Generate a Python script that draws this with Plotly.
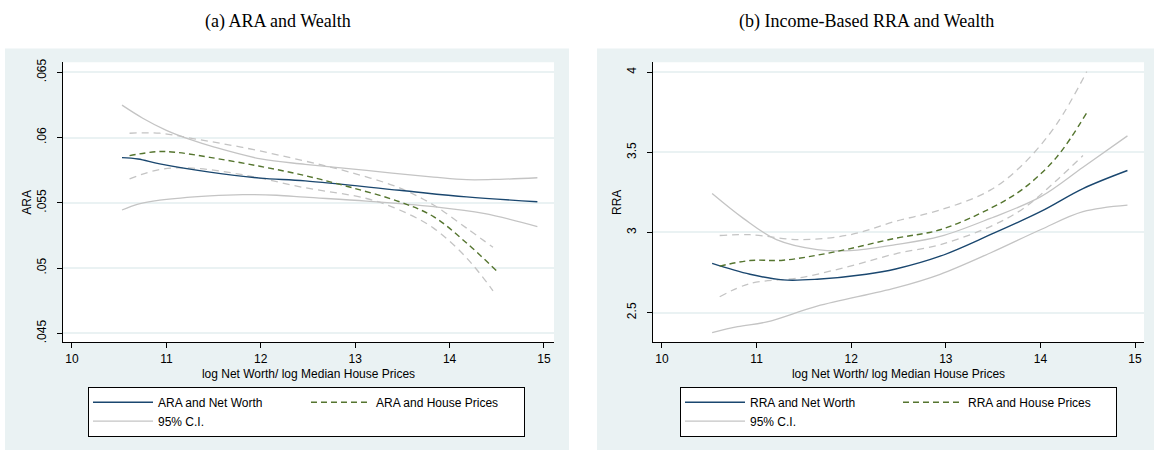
import plotly.graph_objects as go

# ---------------- data: panel (a) ARA ----------------
a_nw_x = [10.53, 10.70, 10.93, 11.46, 11.99, 12.47, 13.47, 14.18, 14.93]
a_nw_y = [0.05846, 0.05836, 0.05798, 0.05735, 0.05689, 0.05668, 0.05596, 0.05545, 0.05508]
a_nw_hi_x = [10.53, 10.75, 11.00, 11.25, 11.50, 12.00, 12.47, 13.12, 13.83, 14.18, 14.53, 14.93]
a_nw_hi_y = [0.06248, 0.06148, 0.06055, 0.05985, 0.05928, 0.05836, 0.05795, 0.05748, 0.05697, 0.05677, 0.05680, 0.05692]
a_nw_lo_x = [10.53, 10.70, 10.93, 11.46, 11.81, 12.17, 12.47, 13.12, 13.83, 14.36, 14.93]
a_nw_lo_y = [0.05445, 0.05490, 0.05520, 0.05553, 0.05563, 0.05558, 0.05543, 0.05513, 0.05470, 0.05419, 0.05318]
a_hp_x = [10.61, 10.90, 11.11, 11.46, 11.99, 12.47, 12.94, 13.47, 13.83, 14.18, 14.50]
a_hp_y = [0.05861, 0.05892, 0.05886, 0.05848, 0.05780, 0.05708, 0.05621, 0.05508, 0.05394, 0.05192, 0.04977]
a_hp_hi_x = [10.61, 10.93, 11.28, 11.81, 12.45, 12.94, 13.47, 13.83, 14.18, 14.46]
a_hp_hi_y = [0.06033, 0.06033, 0.05992, 0.05924, 0.05823, 0.05735, 0.05614, 0.05483, 0.05306, 0.05159]
a_hp_lo_x = [10.61, 10.93, 11.28, 11.81, 12.45, 13.12, 13.47, 13.83, 14.18, 14.46]
a_hp_lo_y = [0.05684, 0.05755, 0.05765, 0.05715, 0.05618, 0.05533, 0.05445, 0.05306, 0.05078, 0.04826]

# ---------------- data: panel (b) RRA ----------------
b_nw_x = [10.53, 10.93, 11.28, 11.64, 12.16, 12.47, 12.94, 13.47, 14.00, 14.45, 14.92]
b_nw_y = [2.807, 2.739, 2.704, 2.708, 2.739, 2.772, 2.852, 2.986, 3.130, 3.274, 3.387]
b_nw_hi_x = [10.53, 10.86, 11.21, 11.64, 11.99, 12.47, 12.94, 13.47, 14.00, 14.45, 14.92]
b_nw_hi_y = [3.243, 3.088, 2.955, 2.893, 2.887, 2.924, 2.975, 3.088, 3.222, 3.407, 3.603]
b_nw_lo_x = [10.53, 10.80, 11.11, 11.64, 12.47, 12.94, 13.47, 14.00, 14.45, 14.92]
b_nw_lo_y = [2.375, 2.412, 2.442, 2.540, 2.654, 2.739, 2.872, 3.017, 3.130, 3.171]
b_hp_x = [10.61, 10.93, 11.28, 11.81, 12.47, 12.94, 13.47, 13.82, 14.17, 14.49]
b_hp_y = [2.790, 2.825, 2.827, 2.877, 2.964, 3.017, 3.150, 3.274, 3.469, 3.747]
b_hp_hi_x = [10.61, 10.93, 11.46, 11.99, 12.47, 12.94, 13.47, 13.82, 14.17, 14.49]
b_hp_hi_y = [2.981, 2.986, 2.955, 2.986, 3.070, 3.140, 3.264, 3.428, 3.675, 4.004]
b_hp_lo_x = [10.61, 10.93, 11.46, 11.99, 12.47, 12.94, 13.47, 13.82, 14.17, 14.45]
b_hp_lo_y = [2.599, 2.681, 2.718, 2.790, 2.867, 2.924, 3.037, 3.150, 3.325, 3.480]

x_ticks = [10, 11, 12, 13, 14, 15]
a_yticks = [0.045, 0.05, 0.055, 0.06, 0.065]
a_ytext = [".045", ".05", ".055", ".06", ".065"]
b_yticks = [2.5, 3, 3.5, 4]
b_ytext = ["2.5", "3", "3.5", "4"]

NAVY = "#1a476f"
GREEN = "#55752f"
GRAY = "#c4c4c4"
BG = "#eaf2f3"
FONT = "Liberation Sans"

W, H = 1154, 451
fig = go.Figure()


def add_panel(xa, ya, leg, nw, nwhi, nwlo, hp, hphi, hplo, nw_name, hp_name):
    common = dict(xaxis=xa, yaxis=ya, mode="lines", legend=leg, hoverinfo="skip")
    fig.add_trace(go.Scatter(x=nwhi[0], y=nwhi[1], name="95% C.I.", legendgroup="g1",
                             line=dict(color=GRAY, width=1.3, shape="spline"), showlegend=False, **common))
    fig.add_trace(go.Scatter(x=nwlo[0], y=nwlo[1], name="95% C.I.", legendgroup="g1",
                             line=dict(color=GRAY, width=1.3, shape="spline"), showlegend=False, **common))
    fig.add_trace(go.Scatter(x=hphi[0], y=hphi[1], name="95% C.I. hp", legendgroup="g2",
                             line=dict(color=GRAY, width=1.3, dash="7px,5px", shape="spline"), showlegend=False, **common))
    fig.add_trace(go.Scatter(x=hplo[0], y=hplo[1], name="95% C.I. hp", legendgroup="g2",
                             line=dict(color=GRAY, width=1.3, dash="7px,5px", shape="spline"), showlegend=False, **common))
    fig.add_trace(go.Scatter(x=nw[0], y=nw[1], name=nw_name, legendgroup="g1", legendrank=1,
                             line=dict(color=NAVY, width=1.4, shape="spline"), **common))
    fig.add_trace(go.Scatter(x=hp[0], y=hp[1], name=hp_name, legendgroup="g2", legendrank=3,
                             line=dict(color=GREEN, width=1.4, dash="6px,4px", shape="spline"), **common))
    # legend-only CI entry
    fig.add_trace(go.Scatter(x=[None], y=[None], name="95% C.I.", legendgroup="g1", legendrank=2,
                             line=dict(color=GRAY, width=1.3), **common))


add_panel("x", "y", "legend", (a_nw_x, a_nw_y), (a_nw_hi_x, a_nw_hi_y), (a_nw_lo_x, a_nw_lo_y),
          (a_hp_x, a_hp_y), (a_hp_hi_x, a_hp_hi_y), (a_hp_lo_x, a_hp_lo_y),
          "ARA and Net Worth", "ARA and House Prices")
add_panel("x2", "y2", "legend2", (b_nw_x, b_nw_y), (b_nw_hi_x, b_nw_hi_y), (b_nw_lo_x, b_nw_lo_y),
          (b_hp_x, b_hp_y), (b_hp_hi_x, b_hp_hi_y), (b_hp_lo_x, b_hp_lo_y),
          "RRA and Net Worth", "RRA and House Prices")

tickfont = dict(family=FONT, size=12, color="#000")
xcommon = dict(tickvals=x_ticks, ticks="outside", ticklen=5, tickcolor="#000", tickwidth=1,
               showline=True, linecolor="#000", linewidth=1.2, showgrid=False, zeroline=False,
               tickfont=tickfont,
               title=dict(text="log Net Worth/ log Median House Prices", font=tickfont, standoff=4))
ycommon = dict(ticks="outside", ticklen=5, tickcolor="#000", tickwidth=1, tickangle=-90,
               ticklabelstandoff=6,
               showline=True, linecolor="#000", linewidth=1.2, showgrid=True, gridcolor=BG,
               gridwidth=1.5, zeroline=False, tickfont=tickfont)

ytop = 1 - 59 / H
ybot = 1 - 342 / H

legcommon = dict(y=1 - 387 / H, xanchor="center", yanchor="top",
                 orientation="h", traceorder="grouped", itemwidth=60, entrywidth=143,
                 bgcolor="white", bordercolor="#000", borderwidth=1,
                 font=dict(family=FONT, size=12, color="#000"), tracegroupgap=0)

fig.update_layout(
    width=W, height=H, margin=dict(l=0, r=0, t=0, b=0),
    paper_bgcolor="white", plot_bgcolor="white",
    xaxis=dict(domain=[63 / W, 554 / W], range=[9.905, 15.106], anchor="y", **xcommon),
    yaxis=dict(domain=[ybot, ytop], range=[0.04432, 0.06576], anchor="x",
               tickvals=a_yticks, ticktext=a_ytext,
               title=dict(text="ARA", font=tickfont, standoff=0), **ycommon),
    xaxis2=dict(domain=[653 / W, 1144 / W], range=[9.905, 15.095], anchor="y2", **xcommon),
    yaxis2=dict(domain=[ybot, ytop], range=[2.315, 4.062], anchor="x2",
                tickvals=b_yticks, ticktext=b_ytext,
                title=dict(text="RRA", font=tickfont, standoff=0), **ycommon),
    legend=dict(x=306.5 / W, **legcommon),
    legend2=dict(x=898.5 / W, **legcommon),
    shapes=[
        dict(type="rect", xref="paper", yref="paper", x0=5 / W, x1=569 / W, y0=0, y1=1 - 45 / H,
             fillcolor=BG, line=dict(width=0), layer="below"),
        dict(type="rect", xref="paper", yref="paper", x0=597 / W, x1=1.0, y0=0, y1=1 - 45 / H,
             fillcolor=BG, line=dict(width=0), layer="below"),
        dict(type="rect", xref="x domain", yref="y domain", x0=0, x1=1, y0=0, y1=1,
             fillcolor="white", line=dict(width=0), layer="below"),
        dict(type="rect", xref="x2 domain", yref="y2 domain", x0=0, x1=1, y0=0, y1=1,
             fillcolor="white", line=dict(width=0), layer="below"),
    ],
    annotations=[
        dict(text="(a) ARA and Wealth", x=278 / W, y=1 - 18 / H, xref="paper", yref="paper",
             xanchor="center", yanchor="middle",
             showarrow=False, font=dict(family="Liberation Serif", size=18, color="#000")),
        dict(text="(b) Income-Based RRA and Wealth", x=866 / W, y=1 - 18 / H, xref="paper", yref="paper",
             xanchor="center", yanchor="middle",
             showarrow=False, font=dict(family="Liberation Serif", size=18, color="#000")),
    ],
    showlegend=True,
)

fig.write_html("out.html", config={"displayModeBar": False},
               post_script="document.body.style.margin='0';document.body.style.padding='0';")
